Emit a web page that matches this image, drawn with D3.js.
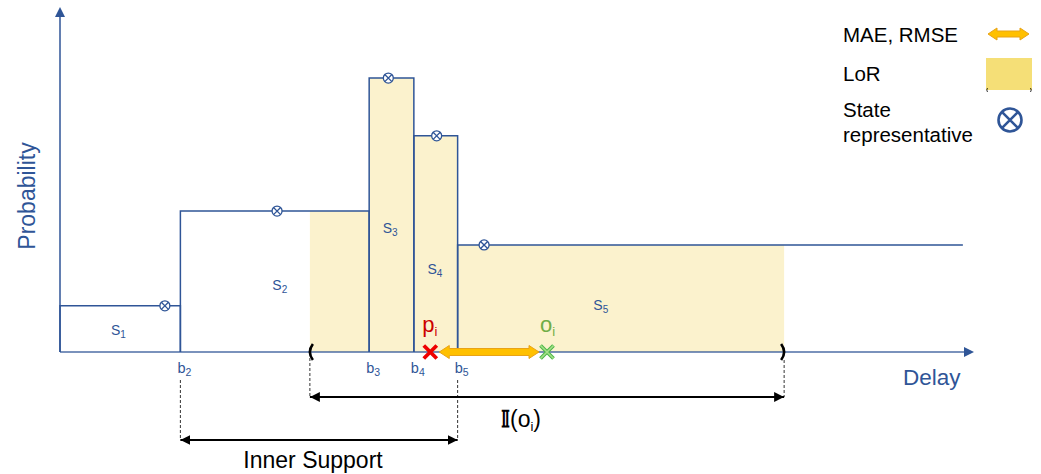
<!DOCTYPE html>
<html><head><meta charset="utf-8">
<script src="https://cdn.jsdelivr.net/npm/d3@7"></script>
<style>
html,body{margin:0;padding:0;background:#fff;}
svg{display:block;font-family:"Liberation Sans",Arial,sans-serif;}
</style></head>
<body>
<svg id="c" width="1041" height="474"></svg>
<script>
// ---- data ----
const states = ["1", "2", "3", "4", "5"];
const binStarts = [0, 13.2, 33.9, 38.8, 43.6];
const binEnds = [13.2, 33.9, 38.8, 43.6, 99.0];
const probs = [0.135, 0.412, 0.801, 0.632, 0.313];
const representatives = [11.5, 23.8, 36.0, 41.3, 46.5];
const tickLabels = ["2", "3", "4", "5"];
const tickValues = [13.2, 33.9, 38.8, 43.6];
const lorRange = [27.4, 79.4];
const innerSupport = [13.2, 43.6];
const predicted = 40.6;
const observed = 53.4;
const legendItems = ["MAE, RMSE", "LoR", "State representative"];

// ---- layout ----
const BLUE = "#2F5597";
const svg = d3.select("#c");
const x = d3.scaleLinear().domain([0, 100]).range([60, 972]);
const y = d3.scaleLinear().domain([0, 1]).range([352, 10]);
const base = y(0);
const labelX = [6.4, 24.1, 36.2, 41.1, 59.3];
const labelY = [0.05, 0.181, 0.348, 0.228, 0.123];

const defs = svg.append("defs");
function marker(id, color, rev) {
  defs.append("marker").attr("id", id).attr("viewBox", "0 0 10 10")
    .attr("refX", rev ? 0 : 10).attr("refY", 5).attr("markerWidth", 10).attr("markerHeight", 10)
    .attr("markerUnits", "userSpaceOnUse").attr("orient", "auto")
    .append("path").attr("d", rev ? "M10,0 L0,5 L10,10 z" : "M0,0 L10,5 L0,10 z").attr("fill", color);
}
marker("ab", "#000", false);
marker("abr", "#000", true);

// LoR shading
const lorG = svg.append("g");
states.forEach((s, i) => {
  const a = Math.max(binStarts[i], lorRange[0]), b = Math.min(binEnds[i], lorRange[1]);
  if (b > a) {
    lorG.append("rect").attr("x", x(a)).attr("y", y(probs[i])).attr("width", x(b) - x(a))
      .attr("height", base - y(probs[i])).attr("fill", "#FBF2CD");
  }
});

// axes
svg.append("line").attr("x1", x(0)).attr("x2", x(0)).attr("y1", base).attr("y2", 16)
  .attr("stroke", BLUE).attr("stroke-width", 1.5);
svg.append("path").attr("d", `M${x(0)-5},17 L${x(0)},7 L${x(0)+5},17 z`).attr("fill", BLUE);
svg.append("line").attr("x1", x(0)).attr("x2", 965).attr("y1", base).attr("y2", base)
  .attr("stroke", BLUE).attr("stroke-width", 1.5).attr("opacity", 0.85);
svg.append("path").attr("d", `M964,${base-5} L974,${base} L964,${base+5} z`).attr("fill", BLUE);

// step outline
states.forEach((s, i) => {
  const x0 = x(binStarts[i]), x1 = x(binEnds[i]), yt = y(probs[i]);
  const last = i === states.length - 1;
  const d = last ? `M${x0},${base} V${yt} H${x1}` : `M${x0},${base} V${yt} H${x1} V${base}`;
  svg.append("path").attr("d", d).attr("fill", "none").attr("stroke", BLUE).attr("stroke-width", 1.5);
});

// state representatives
function otimes(g, cx, cy, r, sw) {
  g.append("circle").attr("cx", cx).attr("cy", cy).attr("r", r).attr("fill", "#fff")
    .attr("stroke", BLUE).attr("stroke-width", sw);
  const k = r * 0.7071;
  g.append("path").attr("d", `M${cx-k},${cy-k} L${cx+k},${cy+k} M${cx-k},${cy+k} L${cx+k},${cy-k}`)
    .attr("stroke", BLUE).attr("stroke-width", sw);
}
representatives.forEach((v, i) => otimes(svg, x(v), y(probs[i]), 5, 1.3));

// state labels
states.forEach((s, i) => {
  const t = svg.append("text").attr("x", x(labelX[i])).attr("y", y(labelY[i]))
    .attr("text-anchor", "middle").attr("fill", BLUE).attr("font-size", 14);
  t.append("tspan").text("S");
  t.append("tspan").attr("font-size", 10).attr("dy", 3).text(s);
});

// tick labels
tickLabels.forEach((s, i) => {
  const t = svg.append("text").attr("x", x(tickValues[i]) - 3).attr("y", 373)
    .attr("fill", BLUE).attr("font-size", 14.5);
  t.append("tspan").text("b");
  t.append("tspan").attr("font-size", 10.5).attr("dy", 3).text(s);
});

// parentheses of LoR
function paren(px, dir) {
  svg.append("path").attr("d", `M${px + 3*dir},${base-8} Q${px - 3*dir},${base} ${px + 3*dir},${base+8}`)
    .attr("fill", "none").attr("stroke", "#000").attr("stroke-width", 2.6);
}
paren(x(lorRange[0]), 1);
paren(x(lorRange[1]), -1);

// dashed guides
function dashed(px, y1, y2) {
  svg.append("line").attr("x1", px).attr("x2", px).attr("y1", y1).attr("y2", y2)
    .attr("stroke", "#333").attr("stroke-width", 1).attr("stroke-dasharray", "3,2");
}
dashed(x(lorRange[0]), 358, 397);
dashed(x(lorRange[1]), 360, 397);
dashed(x(innerSupport[0]), 380, 440);
dashed(x(innerSupport[1]), 380, 440);

// double arrows
function dblArrow(x1, x2, yy) {
  svg.append("line").attr("x1", x1).attr("x2", x2).attr("y1", yy).attr("y2", yy)
    .attr("stroke", "#000").attr("stroke-width", 2)
    .attr("marker-start", "url(#abr)").attr("marker-end", "url(#ab)");
}
dblArrow(x(lorRange[0]), x(lorRange[1]), 397);
dblArrow(x(innerSupport[0]), x(innerSupport[1]), 440);

svg.append("text").attr("x", 501).attr("y", 427).attr("font-size", 23).attr("fill", "#000")
  .call(t => { t.append("tspan").attr("font-weight", "bold").text("\u{1D540}"); t.append("tspan").text("(o"); t.append("tspan").attr("font-size", 13).attr("dy", 4).text("i"); t.append("tspan").attr("dy", -4).text(")"); });
svg.append("text").attr("x", 313).attr("y", 468)
  .attr("text-anchor", "middle").attr("font-size", 23).attr("fill", "#000").text("Inner Support");

// orange MAE arrow
function orangeArrow(x1, x2, yy, sh, hh, hl) {
  const d = `M${x1},${yy} L${x1+hl},${yy-hh} L${x1+hl},${yy-sh} L${x2-hl},${yy-sh} L${x2-hl},${yy-hh} L${x2},${yy}
    L${x2-hl},${yy+hh} L${x2-hl},${yy+sh} L${x1+hl},${yy+sh} L${x1+hl},${yy+hh} Z`;
  svg.append("path").attr("d", d).attr("fill", "#FFC000").attr("stroke", "#E8A317").attr("stroke-width", 1);
}
orangeArrow(x(predicted) + 9, x(observed) - 8, base, 3.5, 6.5, 10);

// crosses
function cross(cx, cy, color, inner) {
  const k = 6.5;
  const d = `M${cx-k},${cy-k} L${cx+k},${cy+k} M${cx-k},${cy+k} L${cx+k},${cy-k}`;
  svg.append("path").attr("d", d).attr("stroke", color).attr("stroke-width", 3.8);
  if (inner) svg.append("path").attr("d", d).attr("stroke", inner).attr("stroke-width", 1.6);
}
cross(x(predicted), base, "#EE0000", null);
cross(x(observed), base, "#4DB848", "#A6E08A");

svg.append("text").attr("x", x(predicted) - 8).attr("y", 332).attr("font-size", 22).attr("fill", "#CC0000")
  .call(t => { t.append("tspan").text("p"); t.append("tspan").attr("font-size", 13).attr("dy", 4).text("i"); });
svg.append("text").attr("x", x(observed) - 7).attr("y", 332).attr("font-size", 22).attr("fill", "#70AD47")
  .call(t => { t.append("tspan").text("o"); t.append("tspan").attr("font-size", 13).attr("dy", 4).text("i"); });

// axis titles
svg.append("text").attr("transform", "translate(35,196) rotate(-90)").attr("text-anchor", "middle")
  .attr("font-size", 23).attr("fill", BLUE).text("Probability");
svg.append("text").attr("x", 903).attr("y", 385).attr("font-size", 22.5).attr("fill", BLUE).text("Delay");

// legend
const lg = svg.append("g");
lg.append("text").attr("x", 843).attr("y", 42).attr("font-size", 20.5).attr("fill", "#000").text(legendItems[0]);
lg.append("text").attr("x", 843).attr("y", 81).attr("font-size", 20.5).attr("fill", "#000").text(legendItems[1]);
const parts = legendItems[2].split(" ");
lg.append("text").attr("x", 843).attr("y", 117).attr("font-size", 20.5).attr("fill", "#000").text(parts[0]);
lg.append("text").attr("x", 843).attr("y", 142).attr("font-size", 20.5).attr("fill", "#000").text(parts[1]);
orangeArrow(988, 1029, 34, 3, 6, 9);
lg.append("rect").attr("x", 986).attr("y", 58).attr("width", 46).attr("height", 32).attr("fill", "#F5DF77");
lg.append("path").attr("d", "M987.5,88 Q986,90 987.5,92 M1030.5,88 Q1032,90 1030.5,92").attr("stroke", "#000").attr("fill", "none").attr("stroke-width", 0.8);
otimes(lg, 1010, 120, 11.5, 2.6);
</script>
</body></html>
